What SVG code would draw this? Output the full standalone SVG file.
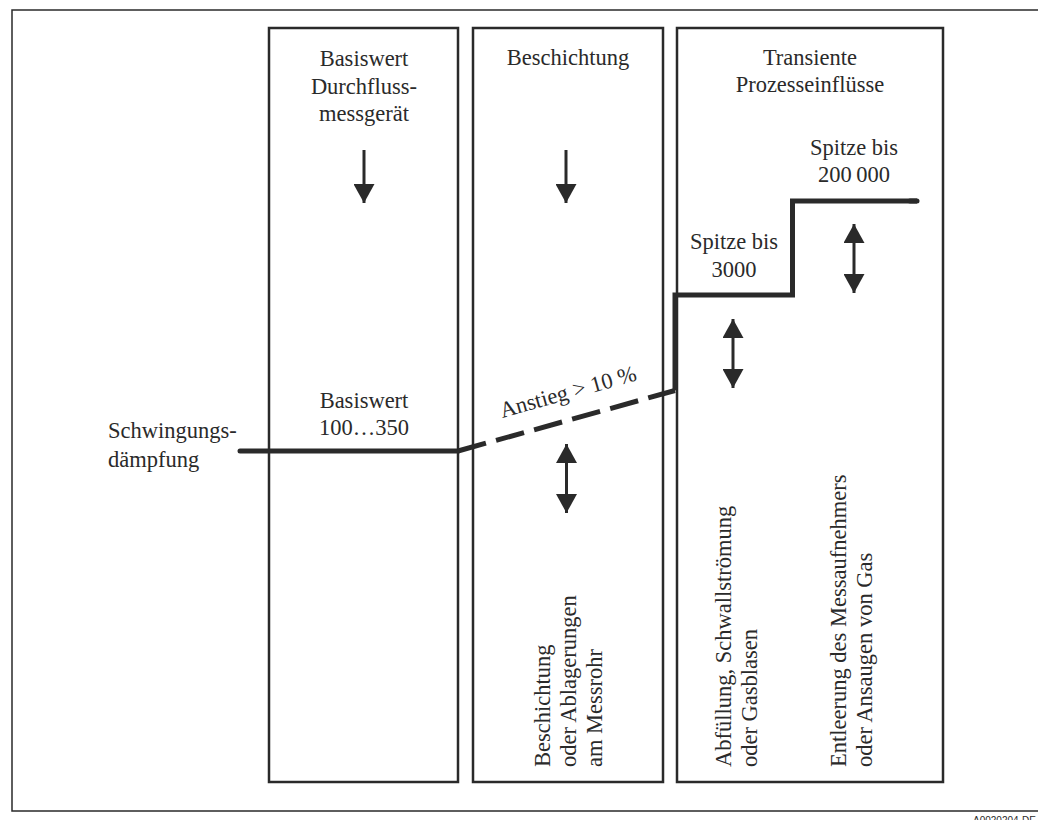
<svg xmlns="http://www.w3.org/2000/svg" width="1038" height="820" viewBox="0 0 1038 820">
  <style>
    .frame { fill: none; stroke: #2a2a2a; stroke-width: 1.5; }
    .box { fill: #ffffff; stroke: #2a2a2a; stroke-width: 2.5; }
    .lbl { font-family: "Liberation Serif", "Times New Roman", serif; font-size: 22.5px; fill: #2a2a2a; }
    .mid { text-anchor: middle; }
    .curve { fill: none; stroke: #2a2a2a; stroke-width: 5; stroke-linecap: round; stroke-linejoin: miter; }
    .dash { fill: none; stroke: #2a2a2a; stroke-width: 5; stroke-dasharray: 29 10.5; }
    .arr { stroke: #2a2a2a; stroke-width: 3; marker-end: url(#head); }
    .arr2 { stroke: #2a2a2a; stroke-width: 3; marker-start: url(#head); marker-end: url(#head); }
    .code { font-family: "Liberation Sans", Arial, sans-serif; font-size: 10px; fill: #2a2a2a; }
  </style>
  <defs>
    <marker id="head" viewBox="0 0 19 21" refX="19" refY="10.5" markerWidth="19" markerHeight="21" markerUnits="userSpaceOnUse" orient="auto-start-reverse">
      <path d="M0,0 L19,10.5 L0,21 z" fill="#2a2a2a"/>
    </marker>
  </defs>
  <rect width="1038" height="820" fill="#ffffff"/>

  <!-- outer frame, open to the right -->
  <path class="frame" d="M1038,10 H12 V811 H1038"/>
  <text class="code" x="973" y="824">A0020204-DE</text>

  <!-- column: base value -->
  <g id="col-basis">
    <rect class="box" x="269" y="28" width="189" height="754"/>
    <text class="lbl mid" x="364" y="66">Basiswert</text>
    <text class="lbl mid" x="364" y="94">Durchfluss-</text>
    <text class="lbl mid" x="364" y="121">messgerät</text>
    <line class="arr" x1="364" y1="150" x2="364" y2="203"/>
    <text class="lbl mid" x="364" y="408">Basiswert</text>
    <text class="lbl mid" x="364" y="435">100…350</text>
  </g>

  <!-- column: coating -->
  <g id="col-beschichtung">
    <rect class="box" x="473" y="28" width="190" height="754"/>
    <text class="lbl mid" x="568" y="65">Beschichtung</text>
    <line class="arr" x1="566" y1="150" x2="566" y2="203"/>
    <line class="arr2" x1="566.5" y1="444" x2="566.5" y2="513"/>
    <g transform="translate(0,767) rotate(-90)">
      <text class="lbl" x="0" y="550">Beschichtung</text>
      <text class="lbl" x="0" y="576">oder Ablagerungen</text>
      <text class="lbl" x="0" y="602">am Messrohr</text>
    </g>
  </g>

  <!-- column: transient process effects -->
  <g id="col-transient">
    <rect class="box" x="677" y="28" width="266" height="754"/>
    <text class="lbl mid" x="810" y="65">Transiente</text>
    <text class="lbl mid" x="810" y="92">Prozesseinflüsse</text>
    <text class="lbl mid" x="854" y="155">Spitze bis</text>
    <text class="lbl mid" x="854" y="182">200&#8201;000</text>
    <text class="lbl mid" x="734" y="249">Spitze bis</text>
    <text class="lbl mid" x="734" y="277">3000</text>
    <line class="arr2" x1="733" y1="319" x2="733" y2="388"/>
    <line class="arr2" x1="854" y1="224" x2="854" y2="293"/>
    <g transform="translate(0,767) rotate(-90)">
      <text class="lbl" x="0" y="731">Abfüllung, Schwallströmung</text>
      <text class="lbl" x="0" y="757">oder Gasblasen</text>
      <text class="lbl" x="0" y="846">Entleerung des Messaufnehmers</text>
      <text class="lbl" x="0" y="872">oder Ansaugen von Gas</text>
    </g>
  </g>

  <!-- damping curve -->
  <g id="curve">
    <path class="curve" d="M240,451 H458"/>
    <path class="dash" d="M458,451 L675,390.5"/>
    <path class="curve" d="M675,390.5 V295 H792.5 V201 H917" style="stroke-linecap:butt"/>
    <path class="curve" d="M910,201 H917"/>
  </g>

  <!-- free labels -->
  <g id="label-damping">
    <text class="lbl" x="108" y="438">Schwingungs-</text>
    <text class="lbl" x="108" y="467">dämpfung</text>
  </g>
  <g id="label-rise">
    <text class="lbl mid" transform="translate(570,399) rotate(-15.6)">Anstieg &gt; 10 %</text>
  </g>
</svg>
